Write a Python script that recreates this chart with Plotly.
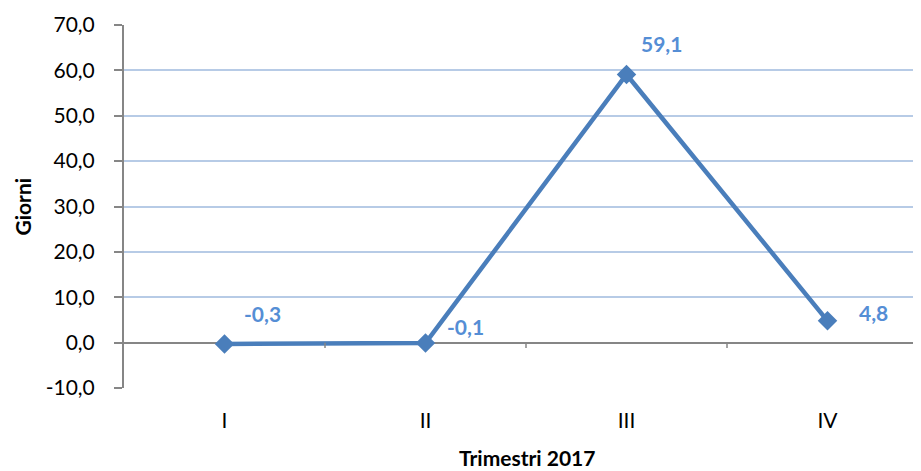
import plotly.graph_objects as go

categories = ["I", "II", "III", "IV"]
values = [-0.3, -0.1, 59.1, 4.8]
labels = ["-0,3", "-0,1", "59,1", "4,8"]
label_dx = [38, 40, 35, 46]
label_dy = [30, 17, 31, 8]
y_ticks = [-10, 0, 10, 20, 30, 40, 50, 60, 70]
y_tick_labels = ["-10,0", "0,0", "10,0", "20,0", "30,0", "40,0", "50,0", "60,0", "70,0"]
boundaries = [0.5, 1.5, 2.5]

LINE = "#4A7EBB"
LABEL = "#558ED5"
GRID = "#B7CBE6"
AX = "#868686"
FONT = "Lato"
FS = 21

fig = go.Figure()
fig.add_trace(go.Scatter(
    x=list(range(len(categories))), y=values, mode="lines+markers",
    line=dict(color=LINE, width=4.5),
    marker=dict(symbol="diamond", size=15, color=LINE),
    hoverinfo="skip", showlegend=False,
))

for i, (v, t) in enumerate(zip(values, labels)):
    fig.add_annotation(x=i, y=v, text="<b>" + t + "</b>", showarrow=False,
                       xshift=label_dx[i], yshift=label_dy[i],
                       font=dict(family=FONT, size=FS, color=LABEL))

for b in boundaries:
    fig.add_shape(type="line", xref="x", yref="y", x0=b, x1=b, y0=0, y1=-1.2,
                  line=dict(color=AX, width=1.5))

fig.add_annotation(text="<b>Trimestri 2017</b>", xref="paper", yref="paper",
                   x=0.5, y=0, yanchor="middle", xanchor="center", yshift=-69,
                   showarrow=False,
                   font=dict(family=FONT, size=FS, color="black"))
fig.add_annotation(text="<b>Giorni</b>", xref="paper", yref="paper",
                   x=0, xanchor="center", yanchor="middle", xshift=-102,
                   y=0.5, textangle=-90, showarrow=False,
                   font=dict(family=FONT, size=FS, color="black"))

fig.update_layout(
    width=921, height=471,
    margin=dict(l=116, r=0, t=17, b=91),
    paper_bgcolor="white", plot_bgcolor="white",
    font=dict(family=FONT, size=FS, color="black"),
)
fig.update_xaxes(
    range=[-0.5, 3.505], tickmode="array", tickvals=list(range(4)), ticktext=categories,
    showgrid=False, zeroline=False, showline=False, ticks="", automargin=False,
    ticklabelstandoff=18,
    tickfont=dict(family=FONT, size=FS, color="black"),
)
fig.update_yaxes(
    range=[-10, 70], tickmode="array", tickvals=y_ticks, ticktext=y_tick_labels,
    showgrid=True, gridcolor=GRID, gridwidth=1.5,
    zeroline=True, zerolinecolor=AX, zerolinewidth=2,
    showline=True, linecolor=AX, linewidth=2, automargin=False,
    ticks="outside", ticklen=8, tickcolor=AX, tickwidth=1.5,
    ticklabelstandoff=15,
    tickfont=dict(family=FONT, size=FS, color="black"),
)

fig.write_html("out.html")
